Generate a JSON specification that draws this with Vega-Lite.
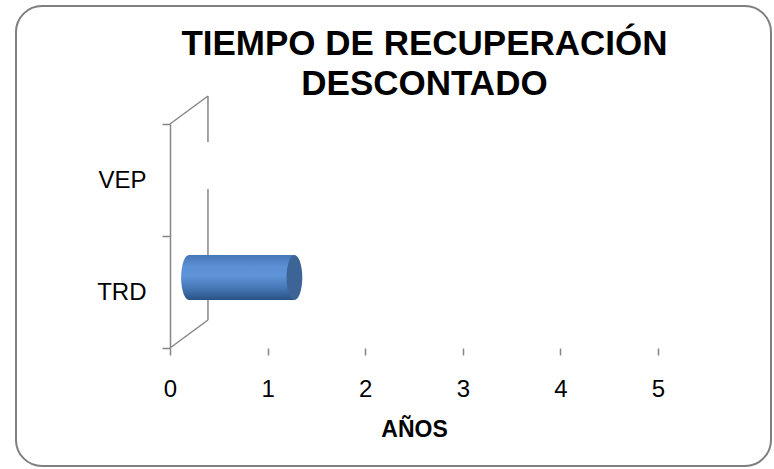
{
  "$schema": "https://vega.github.io/schema/vega-lite/v6.json",
  "width": 755,
  "height": 460,
  "autosize": {"type": "none"},
  "padding": {"left": 16, "top": 6, "right": 3, "bottom": 3},
  "background": "white",
  "config": {
    "view": {"stroke": "#7f7f7f", "strokeWidth": 2, "cornerRadius": 26, "fill": "white"},
    "font": "Liberation Sans"
  },
  "title": {
    "text": ["TIEMPO DE RECUPERACIÓN", "DESCONTADO"],
    "font": "Liberation Sans",
    "fontSize": 35,
    "fontWeight": "bold",
    "lineHeight": 40,
    "color": "#000000",
    "anchor": "middle",
    "frame": "group",
    "baseline": "top",
    "offset": -108,
    "dx": 31
  },
  "datasets": {
    "bars": [
      {"cat": "VEP", "value": 0},
      {"cat": "TRD", "value": 1.08}
    ],
    "walls": [
      {"x1": 0, "y1": 0, "x2": 0.389, "y2": 0.25},
      {"x1": 0, "y1": 2, "x2": 0.389, "y2": 2.25},
      {"x1": 0.389, "y1": 2.25, "x2": 0.389, "y2": 1.84},
      {"x1": 0.389, "y1": 1.42, "x2": 0.389, "y2": 0.25}
    ]
  },
  "resolve": {"scale": {"y": "independent"}},
  "layer": [
    {
      "data": {"name": "walls"},
      "mark": {"type": "rule", "color": "#868686", "strokeWidth": 1.5},
      "encoding": {
        "x": {"field": "x1", "type": "quantitative", "title": "AÑOS", "scale": {"domain": [0, 5], "range": [154, 642], "nice": false, "zero": false}},
        "x2": {"field": "x2"},
        "y": {"field": "y1", "type": "quantitative", "axis": null, "scale": {"domain": [0, 2], "range": [342, 118], "nice": false, "zero": false}},
        "y2": {"field": "y2"}
      }
    },
    {
      "data": {"name": "bars"},
      "transform": [{"filter": "datum.value > 0"}],
      "mark": {
        "type": "point",
        "shape": "M0,-1 A0.35,1 0 1,1 0,1 A0.35,1 0 1,1 0,-1 Z",
        "size": 2025,
        "filled": true,
        "opacity": 1,
        "strokeWidth": 0,
        "fill": {"gradient": "linear", "x1": 0, "y1": 0, "x2": 0, "y2": 1, "stops": [
          {"offset": 0, "color": "#4677b8"},
          {"offset": 0.25, "color": "#5b90d4"},
          {"offset": 0.45, "color": "#5f95d8"},
          {"offset": 0.75, "color": "#4475b4"},
          {"offset": 1, "color": "#2a5284"}
        ]},
        "xOffset": 19,
        "yOffset": -14.5
      },
      "encoding": {
        "x": {"datum": 0, "type": "quantitative", "scale": {"domain": [0, 5], "range": [154, 642], "nice": false, "zero": false}},
        "y": {"field": "cat", "type": "nominal", "axis": null, "scale": {"domain": ["VEP", "TRD"], "range": [118, 342], "paddingInner": 0, "paddingOuter": 0}}
      }
    },
    {
      "data": {"name": "bars"},
      "mark": {
        "type": "bar",
        "size": 45,
        "fill": {"gradient": "linear", "x1": 0, "y1": 0, "x2": 0, "y2": 1, "stops": [
          {"offset": 0, "color": "#4677b8"},
          {"offset": 0.25, "color": "#5b90d4"},
          {"offset": 0.45, "color": "#5f95d8"},
          {"offset": 0.75, "color": "#4475b4"},
          {"offset": 1, "color": "#2a5284"}
        ]},
        "xOffset": 19,
        "x2Offset": 19,
        "yOffset": -14.5
      },
      "encoding": {
        "x": {
          "field": "value", "type": "quantitative", "title": "AÑOS",
          "scale": {"domain": [0, 5], "range": [154, 642], "nice": false, "zero": false},
          "axis": {
            "orient": "bottom", "offset": -118, "values": [0, 1, 2, 3, 4, 5], "format": "d",
            "domain": false, "grid": false,
            "tickSize": 7, "tickColor": "#868686", "tickWidth": 1.5,
            "labelFontSize": 24, "labelColor": "#000000", "labelPadding": 22,
            "labelFlush": false, "labelOverlap": false,
            "titleFontSize": 23, "titleFontWeight": "bold", "titleColor": "#000000", "titlePadding": 17
          }
        },
        "y": {
          "field": "cat", "type": "nominal",
          "scale": {"domain": ["VEP", "TRD"], "range": [118, 342], "paddingInner": 0, "paddingOuter": 0},
          "axis": {
            "title": null, "tickBand": "extent", "offset": -154, "grid": false,
            "domainColor": "#868686", "domainWidth": 1.5,
            "tickColor": "#868686", "tickWidth": 1.5, "tickSize": 8,
            "labelFontSize": 24, "labelColor": "#000000", "labelPadding": 16
          }
        }
      }
    },
    {
      "data": {"name": "bars"},
      "transform": [{"filter": "datum.value > 0"}],
      "mark": {
        "type": "point",
        "shape": "M0,-1 A0.35,1 0 1,1 0,1 A0.35,1 0 1,1 0,-1 Z",
        "size": 2025,
        "filled": true,
        "opacity": 1,
        "strokeWidth": 0,
        "fill": "#3c6497",
        "xOffset": 19,
        "yOffset": -14.5
      },
      "encoding": {
        "x": {"field": "value", "type": "quantitative", "scale": {"domain": [0, 5], "range": [154, 642], "nice": false, "zero": false}},
        "y": {"field": "cat", "type": "nominal", "axis": null, "scale": {"domain": ["VEP", "TRD"], "range": [118, 342], "paddingInner": 0, "paddingOuter": 0}}
      }
    }
  ]
}
